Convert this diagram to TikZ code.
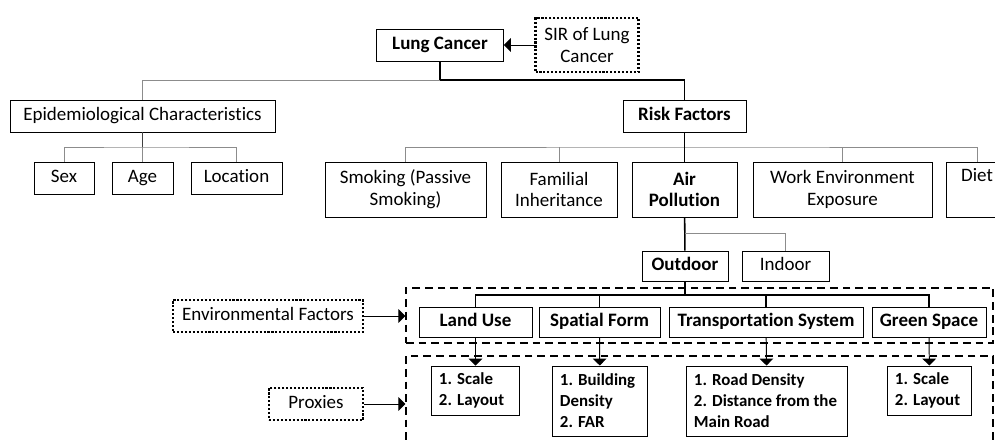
\documentclass[tikz,border=0pt]{standalone}
\usepackage{fontspec}
\setmainfont{Carlito}[Ligatures=NoCommon]
\usetikzlibrary{shapes,arrows,positioning}

\begin{document}
\begin{tikzpicture}[x=0.025cm,y=-0.025cm]
\tikzset{base/.style={text=black, align=center,draw,line width=0.7pt,inner sep=0pt}, }
\tikzset{testobase/.style={font=\fontsize{13.5}{15.5}\selectfont}, }
\tikzset{taglia/.style 2 args={minimum width=#1*0.025cm, minimum height=#2*0.025cm}, }
\tikzset{riga/.style={text height=9.5pt, text depth=2.8pt}, }
\tikzset{voce node/.style={testobase,base}, }
\tikzset{chiave node/.style={testobase,base,font=\fontsize{13.5}{15.5}\selectfont\bfseries}, }
\tikzset{proxy node/.style={base,font=\fontsize{12}{14.9}\selectfont\bfseries,align=flush left,inner xsep=0.18cm}, }
\tikzset{nota node/.style={testobase,base,line width=1.5pt,dash pattern=on 1.5pt off 1.3pt}, }
\tikzset{gruppo node/.style={draw,line width=0.9pt,dash pattern=on 5.5pt off 3.5pt,inner sep=0pt}, }
\tikzset{tronco/.style={line width=1.1pt,black}, }
\tikzset{ramo/.style={line width=0.7pt,black!45}, }
\tikzset{linea/.style={-triangle 90,line width=0.7pt},}

\useasboundingbox (0,0) rectangle (995,441);
\clip (0,0) rectangle (995,441);

% gruppi tratteggiati
\node[gruppo node,taglia={587}{55}] (g1) at (699.5,315.5) {};
\node[gruppo node,taglia={587}{104}] (g2) at (699.5,408) {};

% livello 1
\node[chiave node,riga,taglia={127}{32}] (lc) at (440,45) {Lung Cancer};
\node[nota node,taglia={103}{54}] (sir) at (587,45) {SIR of Lung\\Cancer};

% livello 2
\node[voce node,riga,taglia={265}{32}] (epi) at (142.5,116) {Epidemiological Characteristics};
\node[chiave node,riga,taglia={123}{32}] (rf) at (684.5,116) {Risk Factors};

% livello 3
\node[voce node,riga,taglia={60}{32}] (sex) at (64,178) {Sex};
\node[voce node,riga,taglia={61}{32}] (age) at (142.5,178) {Age};
\node[voce node,riga,taglia={91}{32}] (loc) at (236.5,178) {Location};
\node[voce node,taglia={161}{55}] (smoke) at (405.5,189.5) {Smoking (Passive\\Smoking)};
\node[voce node,taglia={116}{55}] (fam) at (559,189.5) {Familial\\Inheritance};
\node[chiave node,taglia={105}{55}] (air) at (684.5,189.5) {Air\\Pollution};
\node[voce node,taglia={179}{55}] (work) at (842.5,189.5) {Work Environment\\Exposure};
\node[voce node,taglia={62}{55}] (diet) at (977,189.5) {Diet\\\strut};

% livello 4
\node[chiave node,riga,taglia={86}{30}] (out) at (685,266) {Outdoor};
\node[voce node,riga,taglia={87}{30}] (ind) at (785.5,266) {Indoor};

% fattori ambientali
\node[chiave node,riga,taglia={113}{30}] (lu) at (475.5,322) {Land Use};
\node[chiave node,riga,taglia={121}{30}] (sf) at (599.5,322) {Spatial Form};
\node[chiave node,riga,taglia={194}{30}] (ts) at (766,322) {Transportation System};
\node[chiave node,riga,taglia={114}{30}] (gs) at (929,322) {Green Space};

% proxies
\node[proxy node,taglia={87}{49},text width=1.825cm] (p1) at (475.5,390.5) {1. Scale\\2. Layout};
\node[proxy node,taglia={94}{70},text width=2.0cm] (p2) at (600,401) {1. Building\\Density\\2. FAR};
\node[proxy node,taglia={160}{70},text width=3.65cm] (p3) at (767,401) {1. Road Density\\2. Distance from the\\Main Road};
\node[proxy node,taglia={83}{49},text width=1.725cm] (p4) at (929.5,390.5) {1. Scale\\2. Layout};

% note
\node[nota node,riga,taglia={190}{32}] (env) at (268,316) {Environmental Factors};
\node[nota node,riga,taglia={94}{32}] (prx) at (316,404) {Proxies};

% collegamenti
\coordinate (k1) at (440,80);
\coordinate (k2) at (142.5,147);
\coordinate (k3) at (684.5,147);
\coordinate (k4) at (685,233);
\coordinate (k5) at (685,295);

\draw[linea] (sir) -- (lc);
\draw[tronco] (lc) -- (k1) -| (rf);
\draw[ramo] (k1) -| (epi);

\draw[ramo,black!75] (epi) -- (k2);
\draw[ramo] (sex) |- (k2) -| (loc);
\draw[ramo] (age) -- (k2);

\draw[ramo] (smoke) |- (k3) -| (diet);
\draw[ramo] (fam) -- (fam |- k3);
\draw[ramo] (work) -- (work |- k3);
\draw[tronco] (rf) -- (air);

\draw[tronco] (air) -- (out);
\draw[ramo] (k4) -| (ind);

\draw[tronco] (out) -- (k5);
\draw[tronco] (lu) |- (k5) -| (gs);
\draw[tronco] (sf) -- (sf |- k5);
\draw[tronco] (ts) -- (ts |- k5);

\draw[linea] (lu) -- (p1);
\draw[linea] (sf) -- (p2);
\draw[linea] (ts) -- (p3);
\draw[linea] (gs) -- (p4);

\draw[linea] (env) -- (env -| g1.west);
\draw[linea] (prx) -- (prx -| g2.west);
\end{tikzpicture}
\end{document}
